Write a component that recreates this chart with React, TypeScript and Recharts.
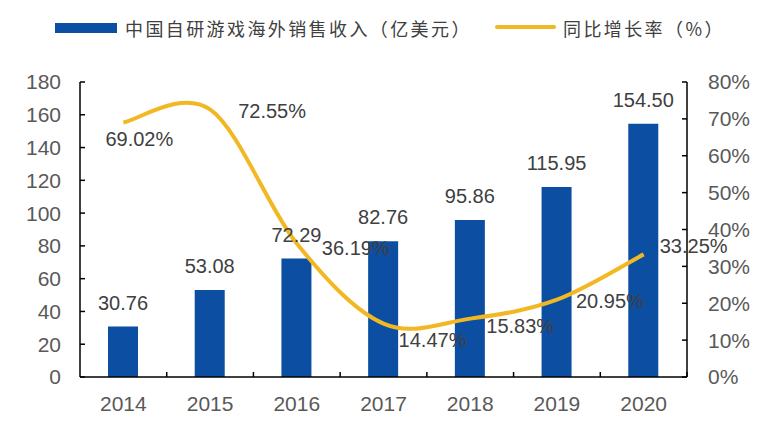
import { ComposedChart, Bar, Line, XAxis, YAxis, Legend, LabelList } from 'recharts'

const YEARS = ['2014', '2015', '2016', '2017', '2018', '2019', '2020']
const REVENUE = [30.76, 53.08, 72.29, 82.76, 95.86, 115.95, 154.5]
const GROWTH = [69.02, 72.55, 36.19, 14.47, 15.83, 20.95, 33.25]
const LEFT_TICKS = [0, 20, 40, 60, 80, 100, 120, 140, 160, 180]
const RIGHT_TICKS = [0, 10, 20, 30, 40, 50, 60, 70, 80]

const BAR_NAME = '中国自研游戏海外销售收入（亿美元）'
const LINE_NAME = '同比增长率（%）'

const BLUE = '#0b4ea2'
const YELLOW = '#f2b824'
const TICK_GRAY = '#595959'
const LABEL_GRAY = '#404040'

// where excel put each growth label, relative to its point
const GROWTH_LABEL_SHIFT = [
    [16, 17], [62, 2], [59, 4], [49, 16], [50, 7], [53, 1], [50, -8],
]

const data = YEARS.map((year, i) => ({ year, revenue: REVENUE[i], growth: GROWTH[i] }))

// excel-like smoothed line (catmull-rom through the points)
function smoothCurve(context: any) {
    let pts: number[][] = []
    return {
        areaStart() {},
        areaEnd() {},
        lineStart() { pts = [] },
        point(x: number, y: number) { pts.push([+x, +y]) },
        lineEnd() {
            if (!pts.length) return
            context.moveTo(pts[0][0], pts[0][1])
            for (let i = 0; i < pts.length - 1; i++) {
                const p0 = pts[i - 1] || pts[i]
                const p1 = pts[i]
                const p2 = pts[i + 1]
                const p3 = pts[i + 2] || p2
                context.bezierCurveTo(
                    p1[0] + (p2[0] - p0[0]) / 6, p1[1] + (p2[1] - p0[1]) / 6,
                    p2[0] - (p3[0] - p1[0]) / 6, p2[1] - (p3[1] - p1[1]) / 6,
                    p2[0], p2[1],
                )
            }
        },
    }
}

const PLOT_W = 679 - 72
const HALF_BAND = PLOT_W / YEARS.length / 2

function YearTick({ x, y, payload }: any) {
    return (
        <g>
            <line x1={x + HALF_BAND} x2={x + HALF_BAND} y1={y} y2={y - 5} stroke="#000" strokeWidth={1.5} />
            <text x={x} y={y + 26} textAnchor="middle" dominantBaseline="central" fill={TICK_GRAY} fontSize={21}>
                {payload.value}
            </text>
        </g>
    )
}

function GrowthLabel({ x, y, value, index }: any) {
    const [dx, dy] = GROWTH_LABEL_SHIFT[index]
    return (
        <text x={x + dx} y={y + dy} textAnchor="middle" dominantBaseline="central" fill={LABEL_GRAY} fontSize={20}>
            {`${Number(value).toFixed(2)}%`}
        </text>
    )
}

function ChartLegend() {
    const text = {
        position: 'absolute' as const,
        top: 8,
        fontSize: 18,
        letterSpacing: 2.4,
        color: LABEL_GRAY,
        fontFamily: '"Noto Sans CJK SC", sans-serif',
        lineHeight: '24px',
        whiteSpace: 'nowrap' as const,
    }
    return (
        <div style={{ position: 'relative', width: 773, height: 40 }}>
            <div style={{ position: 'absolute', left: 47, top: 15, width: 62, height: 10, background: BLUE }} />
            <div style={{ ...text, left: 117 }}>{BAR_NAME}</div>
            <div style={{ position: 'absolute', left: 487, top: 17, width: 61, height: 4, borderRadius: 2, background: YELLOW }} />
            <div style={{ ...text, left: 555 }}>{LINE_NAME}</div>
        </div>
    )
}

export default function App() {
    return (
        <div style={{ width: 773, height: 425, fontFamily: '"Liberation Sans", Arial, sans-serif' }}>
            <ComposedChart width={773} height={425} data={data} margin={{ top: 74, right: 0, bottom: 26, left: 0 }}>
                <XAxis
                    dataKey="year"
                    height={30}
                    tickLine={false}
                    tickSize={0}
                    tickMargin={0}
                    axisLine={{ stroke: '#000', strokeWidth: 1.5 }}
                    tick={<YearTick />}
                    interval={0}
                />
                <YAxis
                    yAxisId="left"
                    width={72}
                    domain={[0, 180]}
                    ticks={LEFT_TICKS}
                    interval={0}
                    tickSize={-5}
                    tickMargin={24}
                    axisLine={{ stroke: '#000', strokeWidth: 1.5 }}
                    tickLine={{ stroke: '#000', strokeWidth: 1.5 }}
                    tick={{ fill: TICK_GRAY, fontSize: 21 }}
                />
                <YAxis
                    yAxisId="right"
                    orientation="right"
                    width={94}
                    domain={[0, 80]}
                    ticks={RIGHT_TICKS}
                    interval={0}
                    tickSize={-5}
                    tickMargin={26}
                    tickFormatter={(v: number) => `${v}%`}
                    axisLine={{ stroke: '#000', strokeWidth: 1.5 }}
                    tickLine={{ stroke: '#000', strokeWidth: 1.5 }}
                    tick={{ fill: TICK_GRAY, fontSize: 21 }}
                />
                <Legend
                    layout="horizontal"
                    verticalAlign="middle"
                    align="center"
                    wrapperStyle={{ top: 0, left: 0, width: 773, height: 40 }}
                    content={() => <ChartLegend />}
                />
                <Bar yAxisId="left" dataKey="revenue" name={BAR_NAME} fill={BLUE} barSize={30} isAnimationActive={false}>
                    <LabelList
                        dataKey="revenue"
                        position="top"
                        offset={17}
                        fill={LABEL_GRAY}
                        fontSize={20}
                        formatter={(v: any) => Number(v).toFixed(2)}
                    />
                </Bar>
                <Line
                    yAxisId="right"
                    dataKey="growth"
                    name={LINE_NAME}
                    type={smoothCurve as any}
                    stroke={YELLOW}
                    strokeWidth={4}
                    dot={false}
                    activeDot={false}
                    isAnimationActive={false}
                >
                    <LabelList dataKey="growth" content={<GrowthLabel />} />
                </Line>
            </ComposedChart>
        </div>
    )
}
